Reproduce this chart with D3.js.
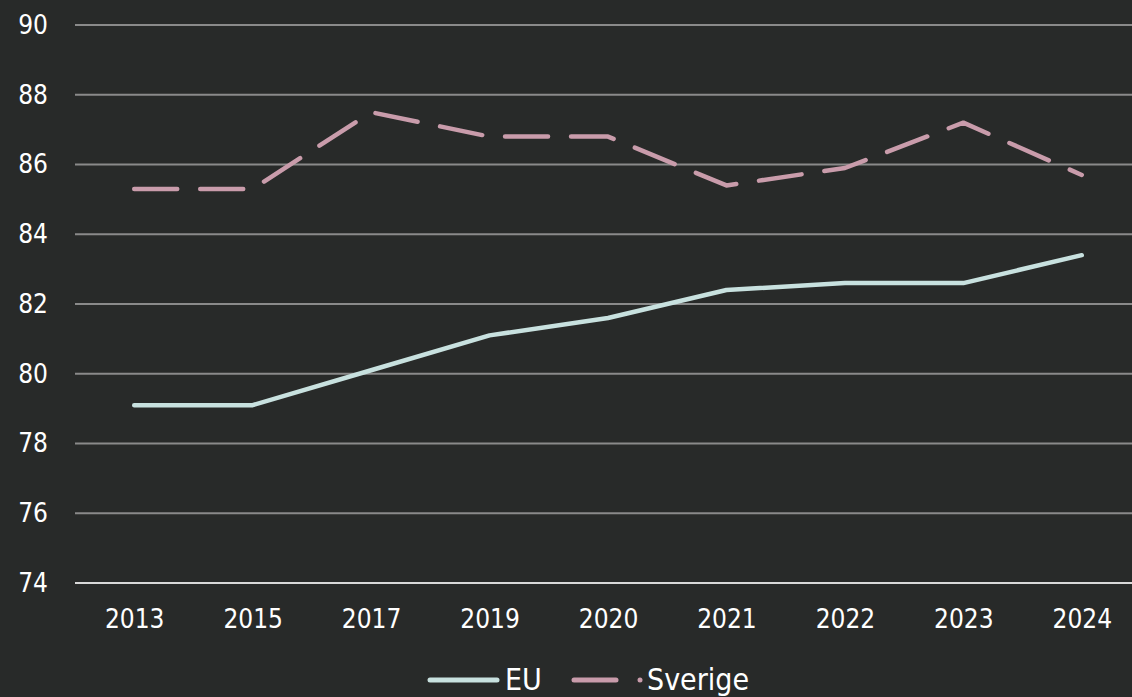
<!DOCTYPE html>
<html>
<head>
<meta charset="utf-8">
<script src="https://cdn.jsdelivr.net/npm/d3@7"></script>
<style>
    body { margin: 0; background: #282a29; }
    svg { display: block; }
    .tick text { font-family: "DejaVu Sans Condensed", "DejaVu Sans", sans-serif; font-size: 26px; fill: #ffffff; }
    .legend text { font-family: "DejaVu Sans Condensed", "DejaVu Sans", sans-serif; font-size: 30px; fill: #ffffff; }
</style>
</head>
<body>
<svg id="chart" width="1132" height="697"></svg>
<script>
// data
const years = ["2013", "2015", "2017", "2019", "2020", "2021", "2022", "2023", "2024"];
const euValues = [79.1, 79.1, 80.1, 81.1, 81.6, 82.4, 82.6, 82.6, 83.4];
const sverigeValues = [85.3, 85.3, 87.5, 86.8, 86.8, 85.4, 85.9, 87.2, 85.7];
const yTicks = [74, 76, 78, 80, 82, 84, 86, 88, 90];

const svg = d3.select("#chart");
const width = 1132, height = 697;
const margin = {top: 25, right: -9, bottom: 114, left: 75};

let x = d3.scalePoint()
    .domain(years)
    .range([margin.left, width - margin.right])
    .padding(0.5);

let y = d3.scaleLinear()
    .domain([74, 90])
    .range([height - margin.bottom, margin.top]);

// gridlines
svg.append("g")
    .selectAll("line")
    .data(yTicks.slice(1))
    .enter()
    .append("line")
    .attr("x1", margin.left)
    .attr("x2", width)
    .attr("y1", d => y(d))
    .attr("y2", d => y(d))
    .attr("stroke", "#8a8a8a")
    .attr("stroke-width", 2);

// y axis labels
let yAxis = svg.append("g")
    .attr("transform", "translate(" + margin.left + ",0)")
    .call(d3.axisLeft(y).tickValues(yTicks).tickSize(0).tickPadding(27).tickFormat(d3.format("d")));
yAxis.select(".domain").remove();

// x axis
let xAxis = svg.append("g")
    .attr("transform", "translate(0," + y(74) + ")")
    .call(d3.axisBottom(x).tickSize(0).tickPadding(27));
xAxis.select(".domain").remove();
svg.append("line")
    .attr("x1", margin.left)
    .attr("x2", width)
    .attr("y1", y(74))
    .attr("y2", y(74))
    .attr("stroke", "#d9d9d9")
    .attr("stroke-width", 2);

let line = d3.line()
    .x((d, i) => x(years[i]))
    .y(d => y(d));

svg.append("path")
    .datum(euValues)
    .attr("d", line)
    .attr("fill", "none")
    .attr("stroke", "#c8e1df")
    .attr("stroke-width", 4.5)
    .attr("stroke-linecap", "round")
    .attr("stroke-linejoin", "round");

svg.append("path")
    .datum(sverigeValues)
    .attr("d", line)
    .attr("fill", "none")
    .attr("stroke", "#c99cab")
    .attr("stroke-width", 4.5)
    .attr("stroke-dasharray", "43,23")
    .attr("stroke-linecap", "round")
    .attr("stroke-linejoin", "round");

// legend
let legend = svg.append("g").attr("class", "legend");
let ly = 680;
legend.append("line")
    .attr("x1", 430).attr("x2", 497).attr("y1", ly).attr("y2", ly)
    .attr("stroke", "#c8e1df").attr("stroke-width", 5).attr("stroke-linecap", "round");
legend.append("text").attr("x", 505).attr("y", ly + 10).text("EU");
legend.append("line")
    .attr("x1", 574).attr("x2", 616).attr("y1", ly).attr("y2", ly)
    .attr("stroke", "#c99cab").attr("stroke-width", 5).attr("stroke-linecap", "round");
legend.append("circle")
    .attr("cx", 640).attr("cy", ly).attr("r", 2.5).attr("fill", "#c99cab");
legend.append("text").attr("x", 647).attr("y", ly + 10).text("Sverige");
</script>
</body>
</html>
